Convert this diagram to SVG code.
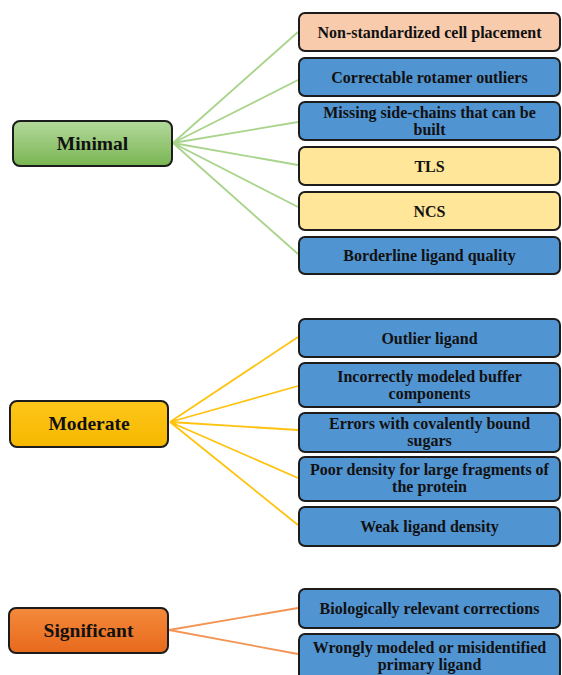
<svg xmlns="http://www.w3.org/2000/svg" width="562" height="675" viewBox="0 0 562 675">
<defs>
<linearGradient id="gGreen" x1="0" y1="0" x2="0" y2="1"><stop offset="0" stop-color="#b3d99b"/><stop offset="1" stop-color="#79b552"/></linearGradient>
<linearGradient id="gYellow" x1="0" y1="0" x2="0" y2="1"><stop offset="0" stop-color="#ffc61a"/><stop offset="1" stop-color="#f5b800"/></linearGradient>
<linearGradient id="gOrange" x1="0" y1="0" x2="0" y2="1"><stop offset="0" stop-color="#f48a3c"/><stop offset="1" stop-color="#e8691c"/></linearGradient>
</defs>
<style>
.box{stroke:#1c1c1c;stroke-width:2}
.blue{fill:#5194d2}
.peach{fill:#f8cbad}
.yel{fill:#ffe699}
.t{font-family:"Liberation Serif","Times New Roman",serif;font-weight:bold;font-size:16px;fill:#111;text-anchor:middle}
.big{font-family:"Liberation Serif","Times New Roman",serif;font-weight:bold;font-size:19.5px;fill:#111;text-anchor:middle}
.lg{stroke:#a9d48c;stroke-width:1.8;fill:none}
.ly{stroke:#ffc20e;stroke-width:1.8;fill:none}
.lo{stroke:#f39454;stroke-width:1.8;fill:none}
</style>
<rect width="562" height="675" fill="#ffffff"/>
<g id="connectors">
<path class="lg" d="M173 143 L298 32 M173 143 L298 80 M173 143 L298 122 M173 143 L298 165 M173 143 L298 207 M173 143 L298 254"/>
<path class="ly" d="M170 422 L298 337 M170 422 L298 386 M170 422 L298 430 M170 422 L298 478 M170 422 L298 525"/>
<path class="lo" d="M169 630 L298 608 M169 630 L298 654"/>
</g>
<g id="minimal"><rect class="box" x="13" y="121" width="159" height="45" rx="7" fill="url(#gGreen)"/><text class="big" x="92.5" y="150">Minimal</text></g>
<g id="moderate"><rect class="box" x="10" y="401" width="158" height="46" rx="7" fill="url(#gYellow)"/><text class="big" x="89" y="430">Moderate</text></g>
<g id="significant"><rect class="box" x="9" y="608" width="159" height="45" rx="7" fill="url(#gOrange)"/><text class="big" x="88.5" y="637">Significant</text></g>
<g id="n1"><rect class="box peach" x="299" y="13" width="261" height="38" rx="6"/><text class="t" x="429.5" y="37.5">Non-standardized cell placement</text></g>
<g id="n2"><rect class="box blue" x="299" y="58" width="261" height="38" rx="6"/><text class="t" x="429.5" y="82.5">Correctable rotamer outliers</text></g>
<g id="n3"><rect class="box blue" x="299" y="102" width="261" height="38" rx="6"/><text class="t" x="429.5" y="118">Missing side-chains that can be</text><text class="t" x="429.5" y="135">built</text></g>
<g id="n4"><rect class="box yel" x="299" y="147" width="261" height="38" rx="6"/><text class="t" x="429.5" y="171.5">TLS</text></g>
<g id="n5"><rect class="box yel" x="299" y="192" width="261" height="38" rx="6"/><text class="t" x="429.5" y="216.5">NCS</text></g>
<g id="n6"><rect class="box blue" x="299" y="237" width="261" height="37" rx="6"/><text class="t" x="429.5" y="261">Borderline ligand quality</text></g>
<g id="m1"><rect class="box blue" x="299" y="319" width="261" height="38" rx="6"/><text class="t" x="429.5" y="343.5">Outlier ligand</text></g>
<g id="m2"><rect class="box blue" x="299" y="363" width="261" height="44" rx="6"/><text class="t" x="429.5" y="381.5">Incorrectly modeled buffer</text><text class="t" x="429.5" y="399">components</text></g>
<g id="m3"><rect class="box blue" x="299" y="413" width="261" height="39" rx="6"/><text class="t" x="429.5" y="428.5">Errors with covalently bound</text><text class="t" x="429.5" y="446">sugars</text></g>
<g id="m4"><rect class="box blue" x="299" y="457" width="261" height="44" rx="6"/><text class="t" x="429.5" y="474.5">Poor density for large fragments of</text><text class="t" x="429.5" y="492">the protein</text></g>
<g id="m5"><rect class="box blue" x="299" y="507" width="261" height="39" rx="6"/><text class="t" x="429.5" y="532">Weak ligand density</text></g>
<g id="s1"><rect class="box blue" x="299" y="589" width="261" height="39" rx="6"/><text class="t" x="429.5" y="613.5">Biologically relevant corrections</text></g>
<g id="s2"><rect class="box blue" x="299" y="634" width="261" height="46" rx="6"/><text class="t" x="429.5" y="653">Wrongly modeled or misidentified</text><text class="t" x="429.5" y="670">primary ligand</text></g>
</svg>
